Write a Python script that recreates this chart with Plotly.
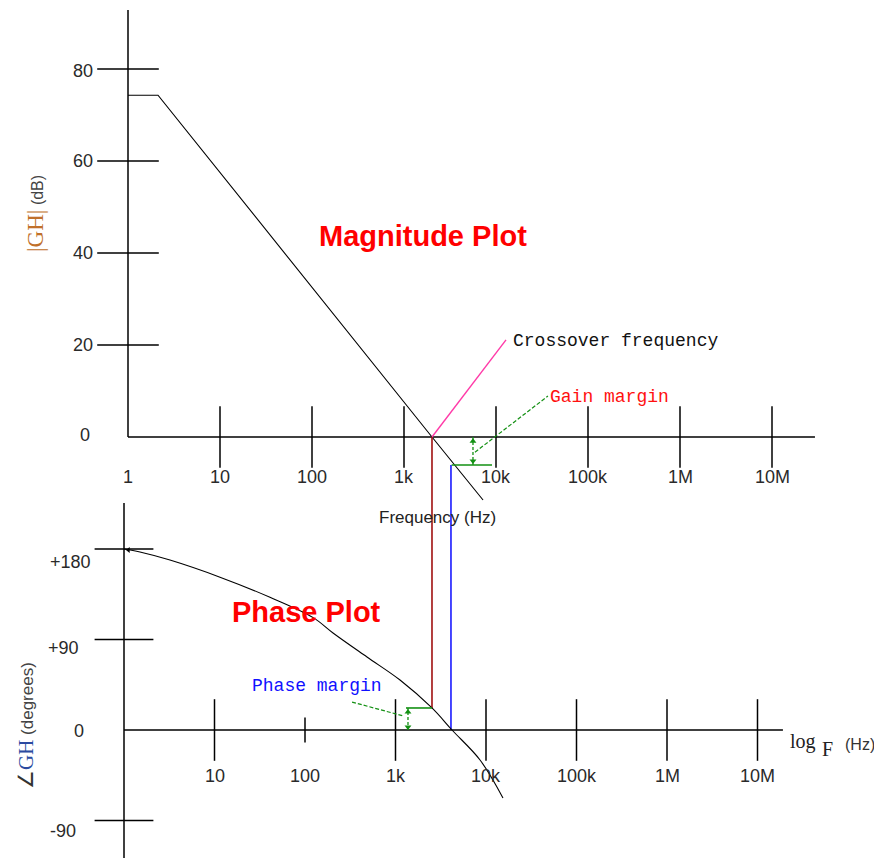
import numpy as np
import plotly.graph_objects as go

W, H = 882, 858
OFF = 8                      # page body margin in the browser
FW, FH = W - OFF, H - OFF    # figure size actually drawn

# ---------------- data ----------------
freq_ticks = [10, 100, 1e3, 1e4, 1e5, 1e6, 1e7]
freq_label_vals = [1, 10, 100, 1e3, 1e4, 1e5, 1e6, 1e7]
freq_label_text = ["1", "10", "100", "1k", "10k", "100k", "1M", "10M"]

mag_ticks = [20, 40, 60, 80]
mag_label_vals = [0, 20, 40, 60, 80]
mag_label_text = ["0", "20", "40", "60", "80"]

phase_ticks = [-90, 90, 180]
phase_label_vals = [180, 90, 0, -90]
phase_label_text = ["+180", "+90", "0", "-90"]

# magnitude asymptote (Hz, dB)
mag_freq = [1, 2.12, 2015, 7230]
mag_db = [74.3, 74.3, 0, -13.7]

# phase curve (Hz, degrees)
phase_freq = [1, 1.5, 3.22, 11.5, 41, 122, 204, 484, 1122, 2530, 4210, 8590, 15400]
phase_deg = [180, 177, 169, 152, 132, 112, 96.5, 72.6, 49.7, 21.9, 0, -29.8, -67.6]

# key points
f_cross_mag = 2015      # crossover on magnitude plot (Hz)
f_cross_phase = 2530    # same crossover on the phase plot scale (Hz)
phase_margin = 21.9     # degrees
f_180_mag = 3240        # phase = 0 frequency on magnitude plot scale (Hz)
f_180_phase = 4210      # phase = 0 frequency on phase plot (Hz)
gain_margin = -6.1      # dB

# axis extents
mag_axis_f_end = 2.93e7
mag_axis_db_top = 92.8
phase_axis_f_end = 1.91e7
phase_axis_deg_top = 225.7

# ---------------- axes geometry (pixel mapping, in figure pixels) ----------------
x1_range = [(0 - (128 - OFF)) / 92, (FW - (128 - OFF)) / 92]
y1_range = [((437 - OFF) - FH) / 4.6, (437 - OFF) / 4.6]
x2_range = [(0 - (124 - OFF)) / 90.5, (FW - (124 - OFF)) / 90.5]
y2_range = [((730 - OFF) - FH) / (181 / 180), (730 - OFF) / (181 / 180)]


def deg_to_db(d):
    frac = (d - y2_range[0]) / (y2_range[1] - y2_range[0])
    return y1_range[0] + frac * (y1_range[1] - y1_range[0])


fig = go.Figure()
BLACK = "black"
GREEN = "#139013"


def line(x, y, color=BLACK, width=1.0, dash="solid", axes=1):
    fig.add_trace(go.Scatter(
        x=x, y=y, mode="lines", line=dict(color=color, width=width, dash=dash),
        xaxis="x" if axes == 1 else "x2", yaxis="y" if axes == 1 else "y2",
        hoverinfo="skip", showlegend=False))


def ticks(x, y, symbol, size, axes=1, width=1.5):
    fig.add_trace(go.Scatter(
        x=x, y=y, mode="markers",
        marker=dict(symbol=symbol, size=size, color=BLACK,
                    line=dict(color=BLACK, width=width)),
        xaxis="x" if axes == 1 else "x2", yaxis="y" if axes == 1 else "y2",
        hoverinfo="skip", showlegend=False))


# ---- magnitude plot axes ----
line([1, mag_axis_f_end], [0, 0], width=1.5)
line([1, 1], [0, mag_axis_db_top], width=1.5)
ticks(freq_ticks, [0] * len(freq_ticks), "line-ns", 44)
ticks([1] * len(mag_ticks), mag_ticks, "line-ew", 44)

# ---- phase plot axes ----
line([1, phase_axis_f_end], [0, 0], width=1.5, axes=2)
line([1, 1], [y2_range[0], phase_axis_deg_top], width=1.5, axes=2)
big = [f for f in freq_ticks if f != 100]
ticks(big, [0] * len(big), "line-ns", 44, axes=2)
ticks([100], [0], "line-ns", 18, axes=2)
ticks([1] * len(phase_ticks), phase_ticks, "line-ew", 42, axes=2)

# ---- curves ----
line(mag_freq, mag_db, width=1.1)
fig.add_trace(go.Scatter(
    x=phase_freq, y=phase_deg, mode="lines",
    line=dict(color=BLACK, width=1.1, shape="spline", smoothing=1.0),
    xaxis="x2", yaxis="y2", hoverinfo="skip", showlegend=False))
# small arrow head at the start of the phase curve
fig.add_trace(go.Scatter(x=[1.12], y=[179], mode="markers",
                         marker=dict(symbol="triangle-left", size=5, color=BLACK),
                         xaxis="x2", yaxis="y2", hoverinfo="skip", showlegend=False))

# ---- crossover / margin lines ----
line([f_cross_mag, f_cross_mag], [0, deg_to_db(phase_margin)], color="#a01010", width=1.6)
line([f_180_mag, f_180_mag], [gain_margin, deg_to_db(0)], color="#1a1aff", width=1.6)

# crossover leader (pink)
line([f_cross_mag, 12850], [0, 21.1], color="#ff3aa8", width=1.4)

# gain margin marks
line([3300, 9050], [gain_margin, gain_margin], color=GREEN, width=1.6)
line([5620, 5620], [0, gain_margin], color=GREEN, width=1.3, dash="3px,2px")
fig.add_trace(go.Scatter(x=[5620, 5620], y=[-0.9, gain_margin + 0.9], mode="markers",
                         marker=dict(symbol=["triangle-up", "triangle-down"], size=6, color=GREEN),
                         hoverinfo="skip", showlegend=False))
line([5910, 36700], [-3.3, 8.9], color=GREEN, width=1.2, dash="4px,2px")

# phase margin marks
line([1306, f_cross_phase], [phase_margin, phase_margin], color=GREEN, width=1.6, axes=2)
line([1374, 1374], [0, phase_margin], color=GREEN, width=1.3, dash="3px,2px", axes=2)
fig.add_trace(go.Scatter(x=[1374, 1374], y=[phase_margin - 4, 3], mode="markers",
                         marker=dict(symbol=["triangle-up", "triangle-down"], size=6, color=GREEN),
                         xaxis="x2", yaxis="y2", hoverinfo="skip", showlegend=False))
line([331, 1230], [27.8, 13.9], color=GREEN, width=1.2, dash="4px,2px", axes=2)

# ---------------- text ----------------
ann = []
SANS = "Liberation Sans, Arial, sans-serif"
MONO = "Liberation Mono, Courier New, monospace"
SERIF = "Liberation Serif, Times New Roman, serif"
TICKC = "#2a2a2a"

for v, t in zip(freq_label_vals, freq_label_text):
    ann.append(dict(x=np.log10(v), y=0, xref="x", yref="y", text=t, showarrow=False,
                    yshift=-40, font=dict(family=SANS, size=18, color=TICKC)))
    if v != 1:
        ann.append(dict(x=np.log10(v), y=0, xref="x2", yref="y2", text=t, showarrow=False,
                        yshift=-46, font=dict(family=SANS, size=18, color=TICKC)))

mag_shift = {0: (-36, 2), 20: (-33, 0), 40: (-33, 0), 60: (-33, 0), 80: (-33, -2)}
for v, t in zip(mag_label_vals, mag_label_text):
    xs, ys = mag_shift[v]
    ann.append(dict(x=0, y=v, xref="x", yref="y", text=t, showarrow=False, xanchor="right",
                    xshift=xs, yshift=ys, font=dict(family=SANS, size=18, color=TICKC)))

ph_shift = {180: (-31, -13), 90: (-43, -8), 0: (-38, -1), -90: (-46, -10)}
for v, t in zip(phase_label_vals, phase_label_text):
    xs, ys = ph_shift[v]
    ann.append(dict(x=0, y=v, xref="x2", yref="y2", text=t, showarrow=False, xanchor="right",
                    xshift=xs, yshift=ys, font=dict(family=SANS, size=18, color=TICKC)))


def paper(px, py, text, font, xanchor="center", angle=0):
    ann.append(dict(x=(px - OFF) / FW, y=1 - (py - OFF) / FH, xref="paper", yref="paper",
                    text=text, showarrow=False, xanchor=xanchor, yanchor="middle",
                    textangle=angle, font=font))


paper(36, 214, "<span style='font-family:Liberation Serif;font-size:23px;color:#c0702a'>|GH|</span>"
      "<span style='font-size:16px;color:#444'> (dB)</span>",
      dict(family=SANS, size=16, color="#444"), angle=-90)
paper(26, 726, "<span style='font-family:Liberation Serif;font-size:21px;color:#333'>∠</span>"
      "<span style='font-family:Liberation Serif;font-size:21px;color:#2a4aa0'>GH</span>"
      "<span style='font-size:17px;color:#444'> (degrees)</span>",
      dict(family=SANS, size=17, color="#444"), angle=-90)

paper(437, 517, "Frequency (Hz)", dict(family=SANS, size=17, color="#222"))
paper(788, 741, "log", dict(family=SERIF, size=20, color="#222"), xanchor="left")
paper(820, 749, "F", dict(family=SERIF, size=20, color="#222"), xanchor="left")
paper(843, 744, "(Hz)", dict(family=SANS, size=16, color="#333"), xanchor="left")

paper(423, 236, "<b>Magnitude Plot</b>", dict(family=SANS, size=29, color="#ff0000"))
paper(306, 612, "<b>Phase Plot</b>", dict(family=SANS, size=29, color="#ff0000"))

paper(511, 341, "Crossover frequency", dict(family=MONO, size=18, color="#111"), xanchor="left")
paper(548, 397, "Gain margin", dict(family=MONO, size=18, color="#ff1010"), xanchor="left")
paper(250, 686, "Phase margin", dict(family=MONO, size=18, color="#1010ff"), xanchor="left")

ax_common = dict(visible=False, fixedrange=True, showgrid=False, zeroline=False)
fig.update_layout(
    width=FW, height=FH,
    margin=dict(l=0, r=0, t=0, b=0),
    paper_bgcolor="white", plot_bgcolor="white",
    showlegend=False,
    xaxis=dict(type="log", range=x1_range, domain=[0, 1], anchor="y", **ax_common),
    yaxis=dict(range=y1_range, domain=[0, 1], anchor="x", **ax_common),
    xaxis2=dict(type="log", range=x2_range, domain=[0, 1], anchor="y2", overlaying="x", **ax_common),
    yaxis2=dict(range=y2_range, domain=[0, 1], anchor="x2", overlaying="y", **ax_common),
    annotations=ann,
)

fig.write_html("out.html")
